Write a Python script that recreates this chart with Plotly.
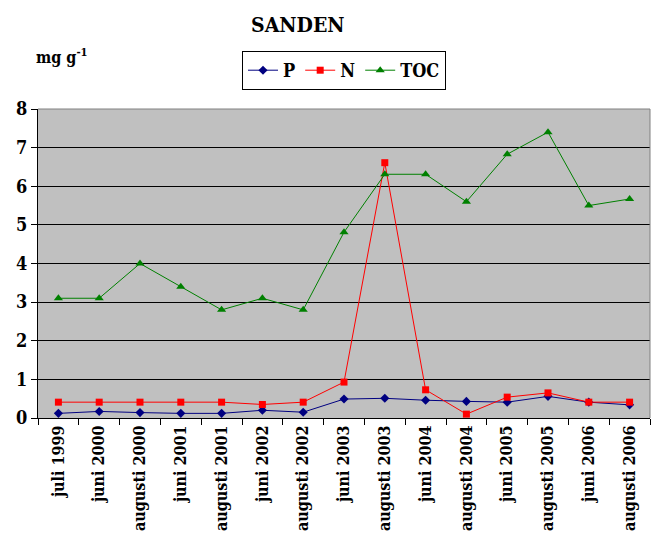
import plotly.graph_objects as go

categories = ["juli 1999", "juni 2000", "augusti 2000", "juni 2001", "augusti 2001",
              "juni 2002", "augusti 2002", "juni 2003", "augusti 2003", "juni 2004",
              "augusti 2004", "juni 2005", "augusti 2005", "juni 2006", "augusti 2006"]
P = [0.12, 0.17, 0.14, 0.12, 0.12, 0.20, 0.15, 0.49, 0.51, 0.46, 0.43, 0.41, 0.56, 0.41, 0.34]
N = [0.41, 0.41, 0.41, 0.41, 0.41, 0.35, 0.41, 0.93, 6.61, 0.73, 0.10, 0.54, 0.65, 0.41, 0.41]
TOC = [3.1, 3.1, 4.0, 3.4, 2.8, 3.1, 2.8, 4.81, 6.31, 6.31, 5.60, 6.83, 7.40, 5.50, 5.67]
y_ticks = [0, 1, 2, 3, 4, 5, 6, 7, 8]

FONT = "DejaVu Serif Condensed, DejaVu Serif, serif"
W, H = 657, 546
L, R, T, B = 38, 7, 109, 128
pw, ph = W - L - R, H - T - B

def px_x(x):
    return (x - L) / pw

def px_y(y):
    return (H - B - y) / ph

def bf(size):
    return dict(family=FONT, size=size, color="black")

fig = go.Figure()
fig.add_trace(go.Scatter(x=categories, y=P, name="<b>P</b>", mode="lines+markers",
                         line=dict(color="#000080", width=1),
                         marker=dict(symbol="diamond", size=7, color="#000080")))
fig.add_trace(go.Scatter(x=categories, y=N, name="<b>N</b>", mode="lines+markers",
                         line=dict(color="#FF0000", width=1),
                         marker=dict(symbol="square", size=7, color="#FF0000")))
fig.add_trace(go.Scatter(x=categories, y=TOC, name="<b>TOC</b>", mode="lines+markers",
                         line=dict(color="#008000", width=1),
                         marker=dict(symbol="triangle-up", size=8, color="#008000")))

fig.update_layout(
    width=W, height=H,
    margin=dict(l=L, r=R, t=T, b=B, pad=0, autoexpand=False),
    paper_bgcolor="white",
    plot_bgcolor="#C0C0C0",
    font=bf(16),
    showlegend=True,
    legend=dict(orientation="h", x=px_x(242), y=px_y(51), xanchor="left", yanchor="top",
                bordercolor="black", borderwidth=1, bgcolor="white",
                font=bf(18), itemwidth=30, tracegroupgap=0),
    annotations=[
        dict(text="<b>SANDEN</b>", x=px_x(298), y=px_y(25), xref="paper", yref="paper",
             showarrow=False, xanchor="center", yanchor="middle", font=bf(21)),
        dict(text="<b>mg g<sup>-1</sup></b>", x=px_x(34), y=px_y(56), xref="paper", yref="paper",
             showarrow=False, xanchor="left", yanchor="middle", font=bf(16)),
    ],
)

fig.update_xaxes(
    type="category", tickangle=-90, tickson="boundaries", ticks="outside", ticklen=6,
    tickcolor="black", showline=True, linecolor="black", linewidth=1, mirror=False,
    showgrid=False, tickfont=bf(16), automargin=False,
    tickvals=categories, ticktext=["<b>" + c + "</b>" for c in categories],
    range=[-0.5, len(categories) - 0.5],
)
fig.update_yaxes(
    range=[0, 8], tickvals=y_ticks, ticktext=["<b>%d</b>" % v for v in y_ticks],
    ticks="outside", ticklen=6, tickcolor="black", automargin=False,
    showline=True, linecolor="black", linewidth=1, showgrid=True, gridcolor="black",
    gridwidth=1, zeroline=False, tickfont=bf(18),
)

fig.add_shape(type="line", xref="paper", yref="paper", x0=0, x1=1, y0=1, y1=1,
              line=dict(color="#808080", width=1))
fig.add_shape(type="line", xref="paper", yref="paper", x0=1, x1=1, y0=0, y1=1,
              line=dict(color="#808080", width=1))

fig.write_html("out.html")
